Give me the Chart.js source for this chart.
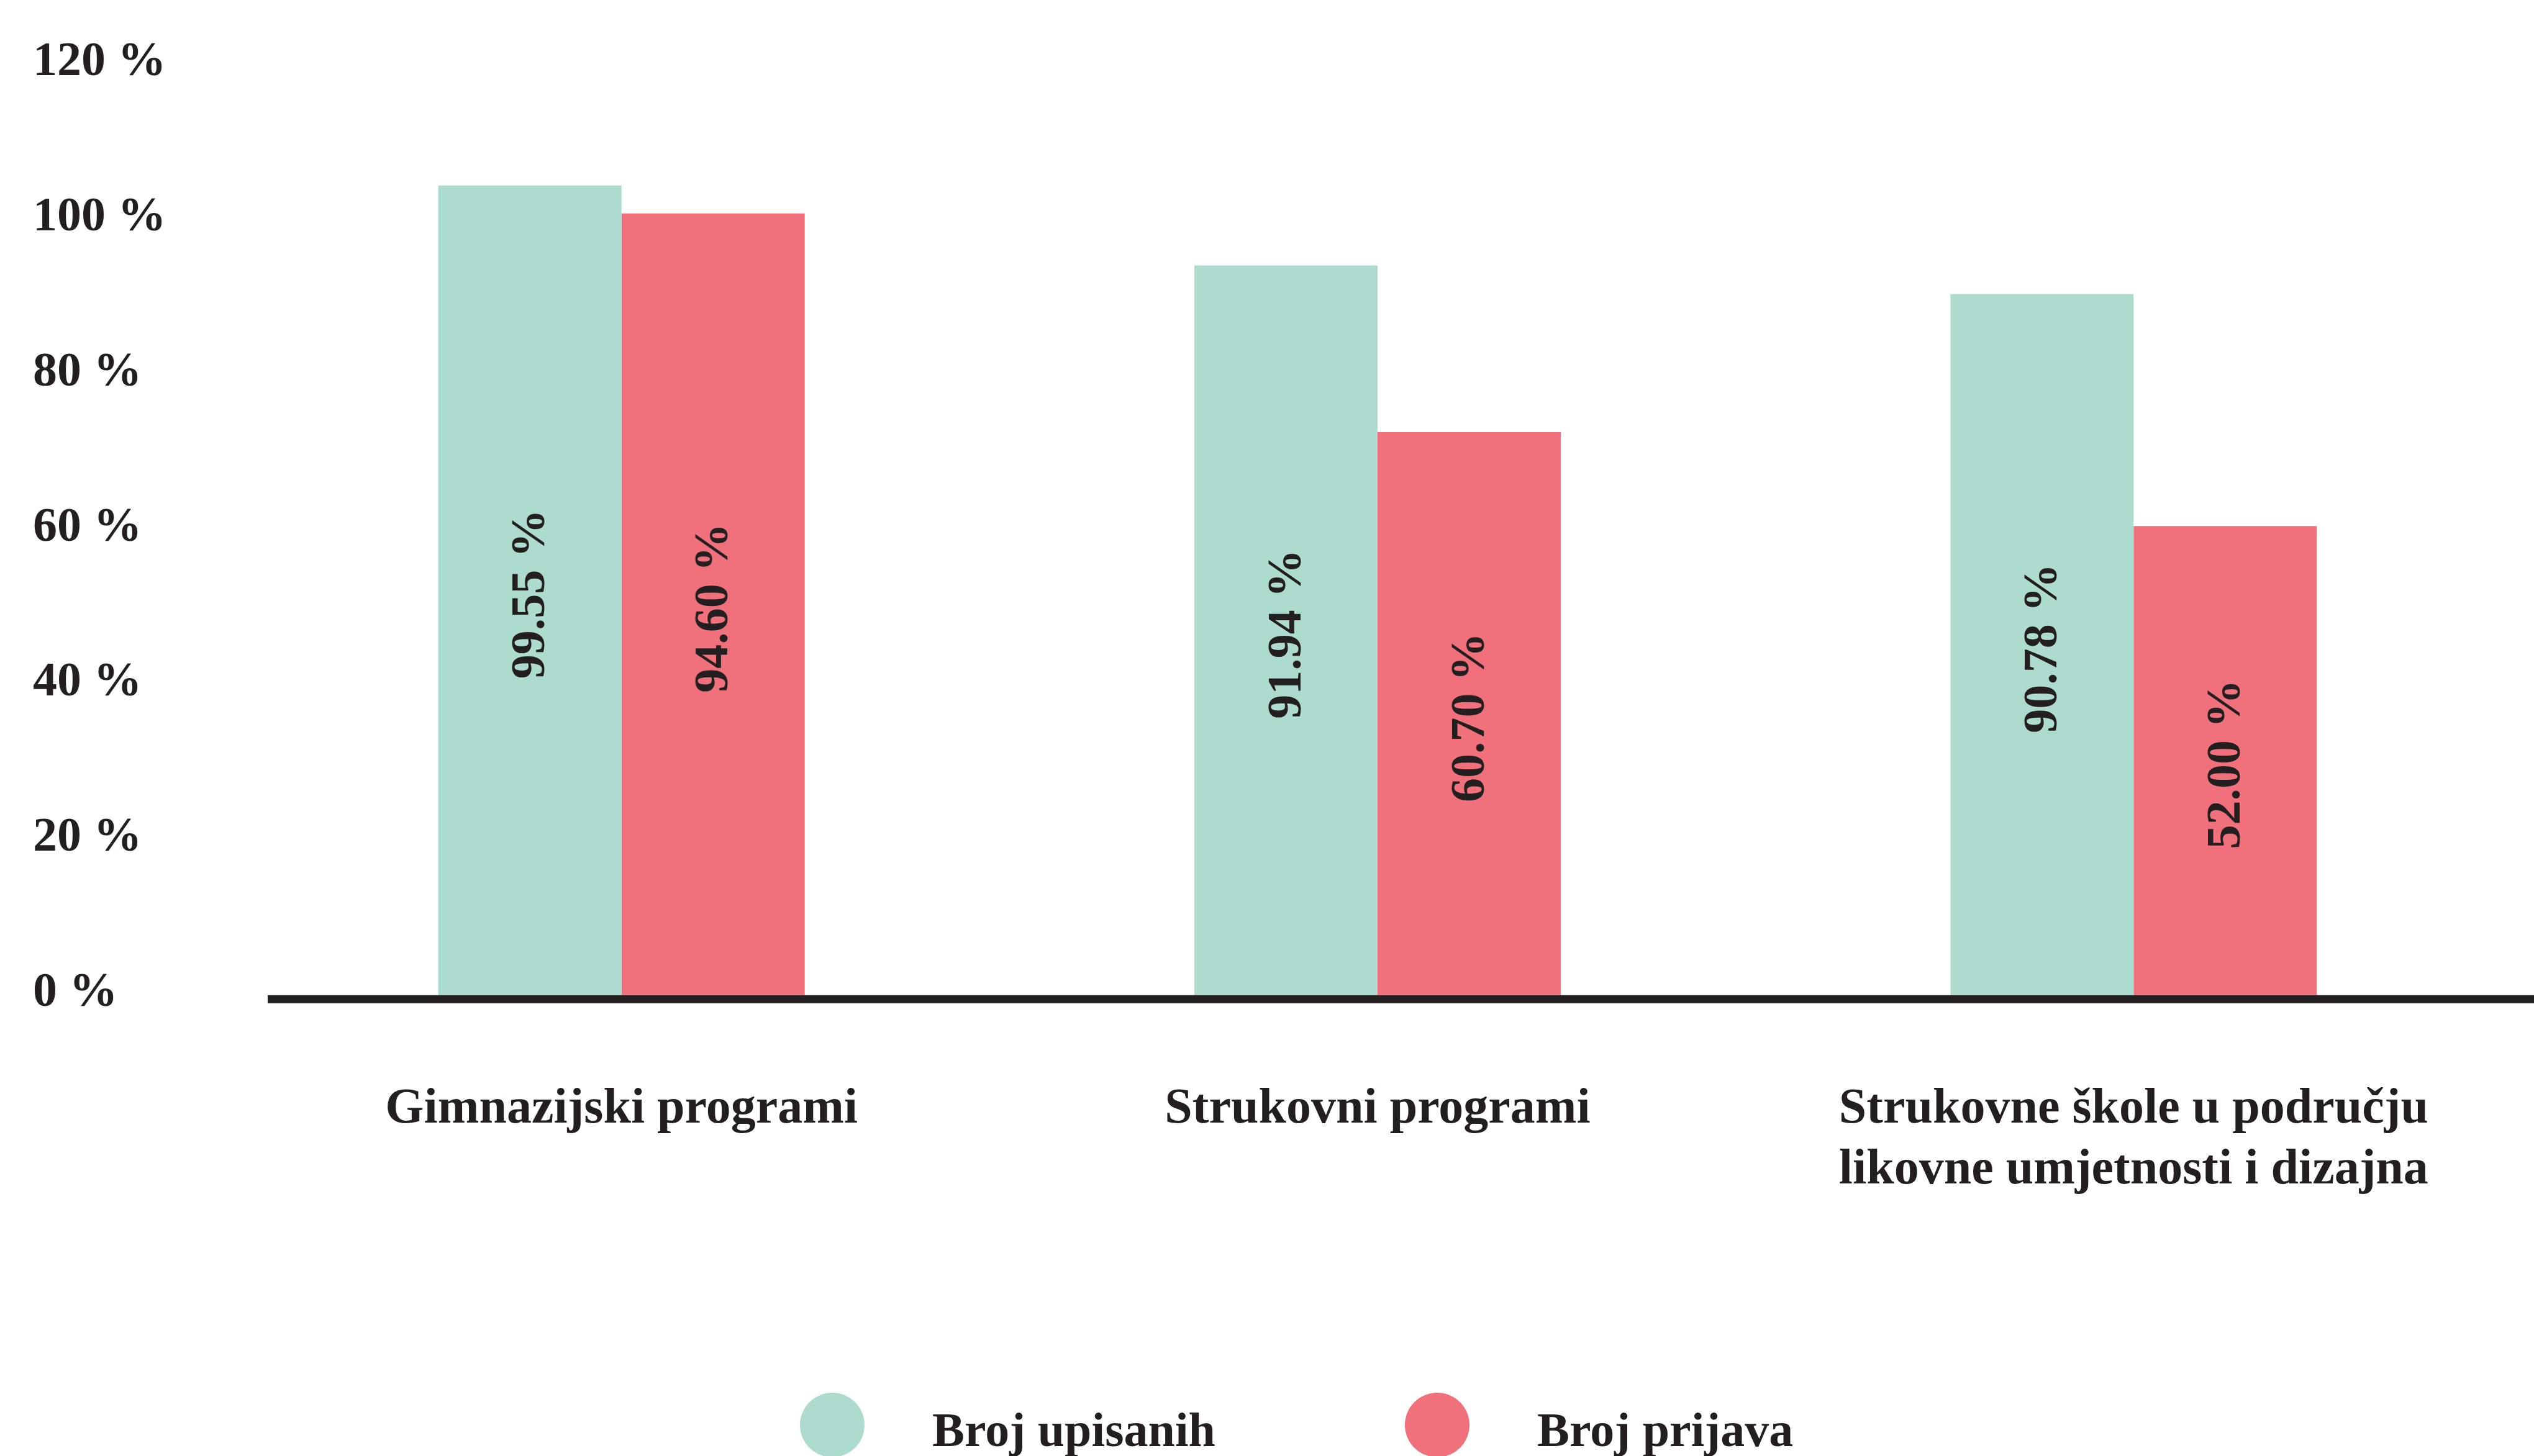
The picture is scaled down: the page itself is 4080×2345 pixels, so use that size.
<!DOCTYPE html>
<html>
<head>
<meta charset="utf-8">
<script src="https://cdn.jsdelivr.net/npm/chart.js@4"></script>
<style>
  body { margin: 0; background: #fff; }
  #wrap { position: relative; width: 4080px; height: 2345px; overflow: hidden; }
  #legend {
    position: absolute; left: 1288px; top: 2243px;
    display: flex; align-items: center;
    font-family: "Liberation Serif", serif; font-weight: bold; font-size: 78px; color: #231f20;
  }
  #legend .item { display: flex; align-items: center; margin-right: 305px; }
  #legend .dot { width: 104px; height: 104px; border-radius: 50%; margin-right: 109px; }
  #legend .txt { position: relative; top: 8px; }
</style>
</head>
<body>
<div id="wrap">
  <canvas id="chart"></canvas>
  <div id="legend"></div>
</div>
<script>
// categories and series
const categories = ['Gimnazijski programi', 'Strukovni programi', ['Strukovne škole u području', 'likovne umjetnosti i dizajna']];
const seriesNames = ['Broj upisanih', 'Broj prijava'];
const seriesColors = ['#aedbcf', '#f0707b'];

// bar heights as drawn in the picture (%)
const upisaniValues = [104.4, 94.1, 90.4];
const prijaveValues = [100.8, 72.6, 60.5];

// labels printed inside the bars
const upisaniLabels = ['99.55 %', '91.94 %', '90.78 %'];
const prijaveLabels = ['94.60 %', '60.70 %', '52.00 %'];

const yMin = 0, yMax = 120, yStep = 20;

const ink = '#231f20';
const serif = '"Liberation Serif", "Times New Roman", serif';

// thick baseline under the bars
const baseline = {
  id: 'baseline',
  afterDatasetsDraw(chart) {
    const { ctx, chartArea, scales: { y } } = chart;
    const y0 = y.getPixelForValue(0);
    ctx.save();
    ctx.fillStyle = ink;
    ctx.fillRect(chartArea.left + 39, y0, chart.width, 13);
    ctx.restore();
  }
};

// vertical value labels in the middle of each bar
const barLabels = {
  id: 'barLabels',
  afterDatasetsDraw(chart) {
    const { ctx } = chart;
    const texts = [upisaniLabels, prijaveLabels];
    ctx.save();
    ctx.fillStyle = ink;
    ctx.font = 'bold 78px ' + serif;
    ctx.textAlign = 'center';
    ctx.textBaseline = 'middle';
    chart.data.datasets.forEach((ds, i) => {
      chart.getDatasetMeta(i).data.forEach((bar, j) => {
        const mid = (bar.y + bar.base) / 2 + 6;
        ctx.save();
        ctx.translate(bar.x + 3, mid);
        ctx.rotate(-Math.PI / 2);
        ctx.fillText(texts[i][j], 0, 0);
        ctx.restore();
      });
    });
    ctx.restore();
  }
};

new Chart(document.getElementById('chart'), {
  type: 'bar',
  data: {
    labels: categories,
    datasets: [
      { label: seriesNames[0], data: upisaniValues, backgroundColor: seriesColors[0] },
      { label: seriesNames[1], data: prijaveValues, backgroundColor: seriesColors[1] }
    ]
  },
  options: {
    responsive: true,
    maintainAspectRatio: false,
    animation: false,
    categoryPercentage: 0.4846,
    barPercentage: 1.0,
    layout: { padding: { left: 53, top: 104, right: 36, bottom: 283 } },
    plugins: { legend: { display: false }, tooltip: { enabled: false } },
    scales: {
      x: {
        grid: { display: false },
        border: { display: false },
        ticks: {
          color: ink,
          padding: 128,
          maxRotation: 0,
          autoSkip: false,
          font: { family: serif, weight: 'bold', size: 80, lineHeight: 1.22 }
        }
      },
      y: {
        min: yMin,
        max: yMax,
        grid: { display: false },
        border: { display: false },
        afterFit(scale) { scale.width = 339; },
        ticks: {
          stepSize: yStep,
          color: ink,
          crossAlign: 'far',
          labelOffset: -3,
          font: { family: serif, weight: 'bold', size: 78 },
          callback: v => v + ' %'
        }
      }
    }
  },
  plugins: [baseline, barLabels]
});

// legend built from the series names
const legend = document.getElementById('legend');
seriesNames.forEach((name, i) => {
  const item = document.createElement('div');
  item.className = 'item';
  const dot = document.createElement('span');
  dot.className = 'dot';
  dot.style.background = seriesColors[i];
  const txt = document.createElement('span');
  txt.className = 'txt';
  txt.textContent = name;
  item.appendChild(dot);
  item.appendChild(txt);
  legend.appendChild(item);
});
</script>
</body>
</html>
